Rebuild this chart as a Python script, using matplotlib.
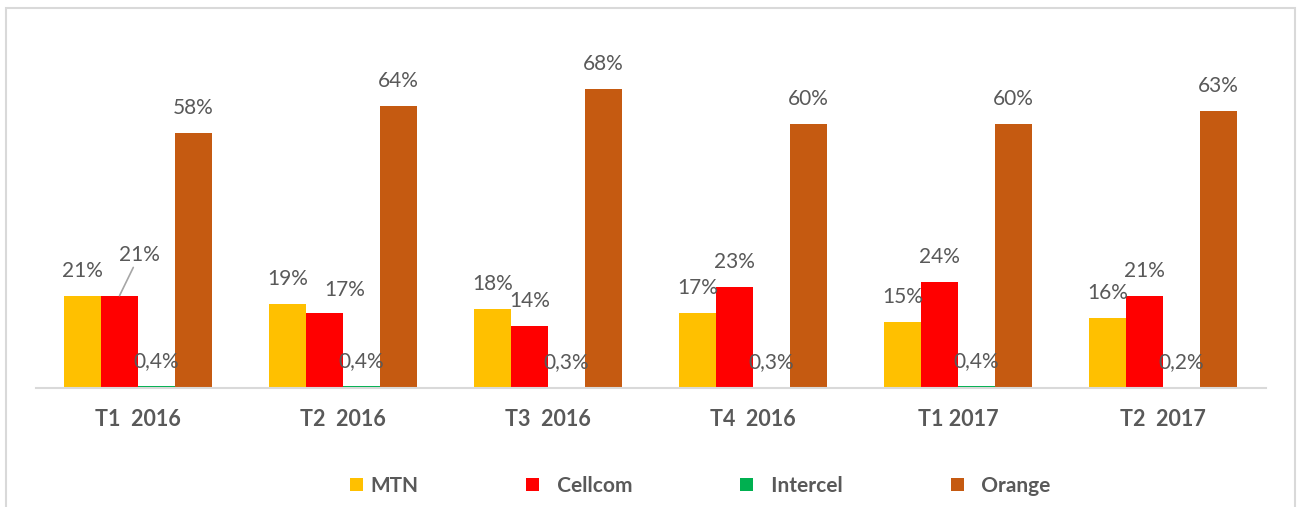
import matplotlib
matplotlib.use("Agg")
from matplotlib import pyplot as plt
from matplotlib.patches import Rectangle
import numpy as np

plt.rcParams['font.family'] = ['Lato', 'DejaVu Sans']

# données
periods = ["T1  2016", "T2  2016", "T3  2016", "T4  2016", "T1 2017", "T2  2017"]
operators = ["MTN", "Cellcom", "Intercel", "Orange"]
mtn = [21, 19, 18, 17, 15, 16]
cellcom = [21, 17, 14, 23, 24, 21]
intercel = [0.4, 0.4, 0.3, 0.3, 0.4, 0.2]
orange = [58, 64, 68, 60, 60, 63]

colors = ["#FFC000", "#FF0000", "#00B050", "#C55A11"]
text_color = "#595959"
grid_color = "#D9D9D9"

fig = plt.figure(figsize=(12.98, 5.07), dpi=100)
ax = fig.add_axes([35.5 / 1298, 119 / 507, 1230 / 1298, 352 / 507])

# cadre autour du graphique
fig.patches.append(Rectangle((6 / 1298, -0.05), 1289 / 1298, 1.05 - 8 / 507,
                             transform=fig.transFigure, fill=False,
                             edgecolor=grid_color, linewidth=1.5))

x = np.arange(len(periods))
w = 0.18
series = [mtn, cellcom, intercel, orange]
handles = []


def fmt(v):
    if v < 1:
        return f"{v:.1f}".replace(".", ",") + "%"
    return f"{v:.0f}%"


# décalage manuel de certaines étiquettes (série, groupe) -> (dx, dy) en points
nudges = {(1, 0): (14.4, 29.5), (1, 1): (14.4, 16.5)}

for k, (vals, c) in enumerate(zip(series, colors)):
    xs = x + (k - 1.5) * w
    b = ax.bar(xs, vals, width=w, color=c, zorder=2)
    handles.append(b)
    for i, (xi, v) in enumerate(zip(xs, vals)):
        dx, dy = nudges.get((k, i), (0, 18))
        if (k, i) == (1, 0):
            ax.annotate(fmt(v), xy=(xi, v), xytext=(dx, dy), textcoords="offset points",
                        ha="center", va="center", fontsize=15, color=text_color,
                        arrowprops=dict(arrowstyle="-", color="#A6A6A6", lw=1.2,
                                        shrinkA=0, shrinkB=0))
        else:
            ax.annotate(fmt(v), xy=(xi, v), xytext=(dx, dy), textcoords="offset points",
                        ha="center", va="center", fontsize=15, color=text_color)

ax.set_xlim(-0.5, len(periods) - 0.5)
ax.set_ylim(0, 80)
ax.set_xticks(x)
ax.set_xticklabels(periods, fontsize=15.5, fontweight="bold", color=text_color)
ax.tick_params(axis="x", length=0, pad=15)
ax.set_yticks([])
for s in ["top", "left", "right"]:
    ax.spines[s].set_visible(False)
ax.spines["bottom"].set_color(grid_color)
ax.spines["bottom"].set_linewidth(1.5)
ax.set_facecolor("none")

labels = ["MTN", "  Cellcom", "  Intercel", "  Orange"]
leg = fig.legend(handles, labels, loc="center", bbox_to_anchor=(700 / 1298, 1 - 486 / 507),
                 ncol=4, frameon=False, handlelength=0.63, handleheight=0.63,
                 handletextpad=0.34, columnspacing=5.2,
                 prop={"size": 15, "weight": "bold"})
for t in leg.get_texts():
    t.set_color(text_color)

plt.savefig("out.png", dpi=100)
